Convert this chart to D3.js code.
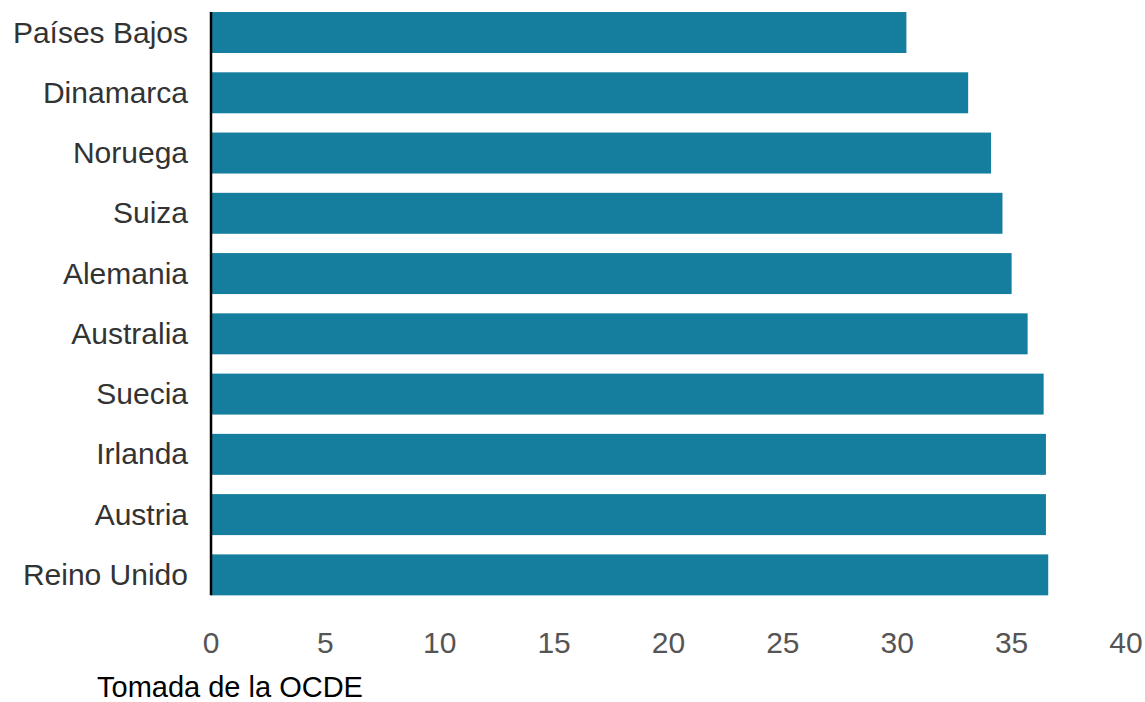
<!DOCTYPE html>
<html><head><meta charset="utf-8">
<script src="https://cdn.jsdelivr.net/npm/d3@7"></script>
<style>body{margin:0;background:#fff}svg{display:block}text{font-family:"Liberation Sans",Arial,sans-serif}</style>
</head><body>
<script>
const categories = ["Países Bajos","Dinamarca","Noruega","Suiza","Alemania","Australia","Suecia","Irlanda","Austria","Reino Unido"];
const values = [30.4, 33.1, 34.1, 34.6, 35.0, 35.7, 36.4, 36.5, 36.5, 36.6];
const tickValues = [0,5,10,15,20,25,30,35,40];
const sourceText = "Tomada de la OCDE";

const W = 1145, H = 702;
const svg = d3.select("body").append("svg").attr("width", W).attr("height", H);
const x = d3.scaleLinear().domain([0, 40]).range([211, 1126]);
const y = d3.scaleBand().domain(categories).range([2.4, 605]).paddingInner(0.32).paddingOuter(0.16);

svg.append("g").selectAll("rect").data(values).join("rect")
  .attr("x", x(0))
  .attr("y", (d,i) => y(categories[i]))
  .attr("width", d => x(d) - x(0))
  .attr("height", y.bandwidth())
  .attr("fill", "#157e9e");

svg.append("line")
  .attr("x1", x(0)).attr("x2", x(0))
  .attr("y1", y(categories[0])).attr("y2", y(categories[categories.length-1]) + y.bandwidth())
  .attr("stroke", "#000").attr("stroke-width", 2.5);

svg.append("g").selectAll("text").data(categories).join("text")
  .attr("x", 188)
  .attr("y", d => y(d) + y.bandwidth()/2 + 10)
  .attr("text-anchor", "end")
  .attr("font-size", 30)
  .attr("fill", "#333")
  .text(d => d);

svg.append("g").selectAll("text").data(tickValues).join("text")
  .attr("x", d => x(d))
  .attr("y", 653)
  .attr("text-anchor", "middle")
  .attr("font-size", 30)
  .attr("fill", "#555")
  .text(d => d);

svg.append("text")
  .attr("x", 97).attr("y", 697)
  .attr("font-size", 29)
  .attr("fill", "#000")
  .text(sourceText);
</script>
</body></html>
